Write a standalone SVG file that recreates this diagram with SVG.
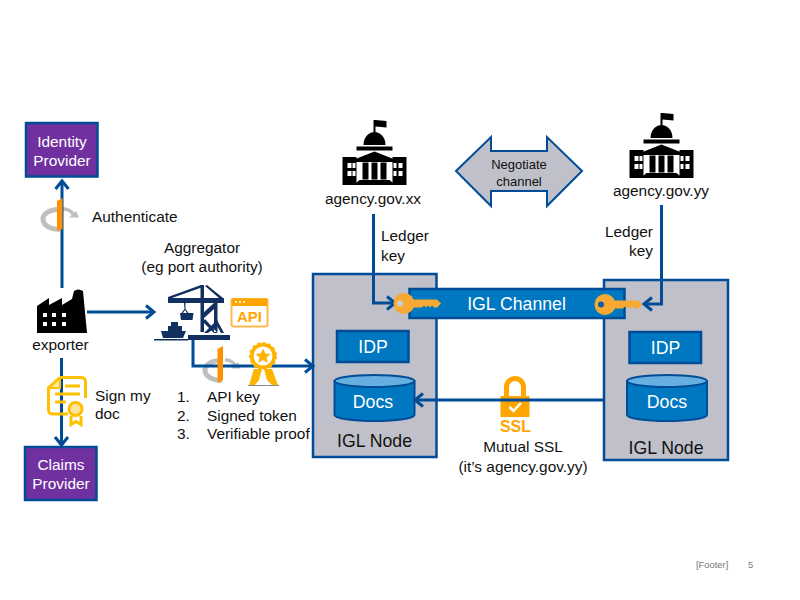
<svg xmlns="http://www.w3.org/2000/svg" width="800" height="600" viewBox="0 0 800 600">
<defs>
<marker id="arr" markerUnits="userSpaceOnUse" markerWidth="16" markerHeight="16" refX="13" refY="8" orient="auto"><path d="M5 1.500L13 8L5 14.500" fill="none" stroke="#004C97" stroke-width="3"/></marker>
<g id="agency"><path d="M-1 -40V-28h2V-40zM1 -40L12 -39V-32.500L1 -33.500z" fill="#000"/><path d="M-11 -15a11 13 0 0 1 22 0z" fill="#000"/><path d="M-18 -13.500H18V-9.500H-18z" fill="#000"/><path d="M-32 -3H-18V25H-32zM32 -3H18V25H32z" fill="#000"/><path d="M-19 -1L0 -8.500L19 -1L19 2H-19z" fill="#000"/><path d="M-12 2.500h6v17h-6zM-3 2.500h6v17h-6zM6 2.500h6v17h-6z" fill="#000"/><path d="M-27 3h4v5h-4zM-22 3h3v5h-3zM-27 11h4v5h-4zM-22 11h3v5h-3zM19 3h3v5h-3zM24 3h4v5h-4zM19 11h3v5h-3zM24 11h4v5h-4z" fill="#fff"/><path d="M-15 20H15L21 25H-21z" fill="#000"/></g>
<g id="key"><circle cx="0" cy="0" r="10.500" fill="#F7A933"/><path d="M8 -4H33L37 0L33 4H30L28 2L26 4L24 2L22 4L20 2L18 4H8z" fill="#F7A933"/></g>
<g id="rot"><path d="M0 -9.500C-12 -10 -17 -4 -17 0C-17 7 -8 11 0 10" fill="none" stroke="#BFBFBF" stroke-width="5"/><path d="M3 -10C8 -10 11 -8 13 -5" fill="none" stroke="#BFBFBF" stroke-width="3.500"/><path d="M9 -1.500H19L16 -8z" fill="#BFBFBF"/></g>
<g id="cyl"><path d="M-40 -20V14A40 6 0 0 0 40 14V-20z" fill="#0078C1" stroke="#004C97" stroke-width="2"/><ellipse cx="0" cy="-20" rx="40" ry="6" fill="#65B0E0" stroke="#004C97" stroke-width="2"/></g>
</defs>
<style>
text{font-family:"Liberation Sans",Arial,sans-serif;fill:#111;font-size:15.400px}
.m{text-anchor:middle}
.w{fill:#fff}
.l{font-size:17.700px}
.p{fill:#7030A0;stroke:#004C97;stroke-width:2.500}
.n{fill:#BFC0C9;stroke:#004C97;stroke-width:2.500}
.b{fill:#0078C1;stroke:#004C97;stroke-width:2.500}
.c{fill:none;stroke:#004C97;stroke-width:3}
.y{fill:none;stroke:#FFC000;stroke-width:3}
.o{fill:#FFA500}
.bar{fill:#FF9000}
</style>

<g id="identity-provider"><rect class="p" x="26" y="123" width="71.500" height="53.500"/><text class="m w" x="62" y="147">Identity</text><text class="m w" x="62" y="166">Provider</text></g>
<g id="claims-provider"><rect class="p" x="25" y="447" width="71.500" height="53"/><text class="m w" x="61" y="470">Claims</text><text class="m w" x="61" y="489">Provider</text></g>

<g id="igl-node-left"><rect class="n" x="313" y="274" width="123.500" height="183"/><rect class="b" x="337" y="331" width="71.500" height="31"/><text class="m w l" x="373" y="353">IDP</text><use href="#cyl" x="374.500" y="401"/><text class="m w l" x="373" y="408">Docs</text><text class="m l" x="374.500" y="447">IGL Node</text></g>
<g id="igl-node-right"><rect class="n" x="604" y="280" width="124" height="180"/><rect class="b" x="629.500" y="332" width="71.500" height="31"/><text class="m w l" x="665.500" y="354">IDP</text><use href="#cyl" x="667" y="401"/><text class="m w l" x="667" y="408">Docs</text><text class="m l" x="666" y="454">IGL Node</text></g>

<g id="ssl"><path d="M506.500 397V387A8.500 8.500 0 0 1 523.500 387V397" fill="none" stroke="#FFA500" stroke-width="5"/><rect class="o" x="500.500" y="396" width="29" height="21"/><path d="M509.500 407L513.500 411L521 403" fill="none" stroke="#fff" stroke-width="2.500"/><text class="m" x="515.500" y="432" style="font-size:16px;font-weight:bold;fill:#FFA500">SSL</text><text class="m" x="523" y="452">Mutual SSL</text><text class="m" x="523" y="472">(it’s agency.gov.yy)</text></g>
<use id="rot-auth" href="#rot" x="60" y="219"/>
<use id="rot-token" href="#rot" x="222" y="370"/>

<g id="connectors">
<path class="c" d="M62 288V181" marker-end="url(#arr)"/>
<path class="c" d="M61.500 358V445" marker-end="url(#arr)"/>
<path class="c" d="M87 312H154" marker-end="url(#arr)"/>
<path class="c" d="M193 340V366H313" marker-end="url(#arr)"/>
<path class="c" d="M604 400H415" marker-end="url(#arr)"/>
<path class="c" d="M373.500 214V303H395" marker-end="url(#arr)"/>
<path class="c" d="M661.500 205V304H644" marker-end="url(#arr)"/>
</g>

<g id="igl-channel"><rect class="b" x="409.500" y="289" width="215" height="29"/><text class="m w l" x="516.500" y="310">IGL Channel</text><use href="#key" x="404" y="303.500"/><circle cx="400" cy="303.500" r="3" fill="#C9CDD6"/><use href="#key" x="605" y="304.500"/><circle cx="601" cy="304.500" r="3" fill="#0B5FA8"/></g>

<g id="negotiate"><path d="M456 171L491 137V151H547V137L582 171L547 206V191H491V206z" fill="#BFC0C9" stroke="#004C97" stroke-width="2"/><text class="m" x="519" y="169" style="font-size:13px">Negotiate</text><text class="m" x="519" y="186" style="font-size:13px">channel</text></g>

<g id="agency-xx"><use href="#agency" x="374.500" y="160"/><text class="m" x="373" y="204">agency.gov.xx</text></g>
<g id="agency-yy"><use href="#agency" x="661.500" y="153"/><text class="m" x="661" y="196">agency.gov.yy</text></g>
<g id="ledger-left"><text x="381" y="241">Ledger</text><text x="381" y="261">key</text></g>
<g id="ledger-right"><text x="605" y="237">Ledger</text><text x="629" y="256">key</text></g>

<g id="exporter"><path d="M37 333V306L49 298V305L62 298V305L72 299L74 291Q78 288 83 291L87 333z" fill="#000"/><path d="M43 313h4v4h-4zM52 313h4v4h-4zM62 313h4v4h-4zM43 322h4v4h-4zM52 322h4v4h-4zM62 322h4v4h-4z" fill="#fff"/><text class="m" x="60.500" y="350">exporter</text></g>

<g id="authenticate"><path class="bar" d="M57 201L62.500 198V229L57 231z"/><text x="92" y="222">Authenticate</text></g>

<g id="sign"><path class="y" d="M60 377.500H81Q85.500 377.500 85.500 382V398M60 377.500L48.500 388V410Q48.500 414 53 414H68"/><path d="M60 378L49 388H60z" fill="#FFE9A8" stroke="#FFC000" stroke-width="2"/><path class="y" d="M65 386H80M55 394H80M55 402H66" stroke-width="2"/><circle cx="75.500" cy="409" r="6.500" fill="#FFE3A0" stroke="#FFC000" stroke-width="3"/><path d="M71 416V424.500L76 421.500L81 424.500V416" class="y" stroke-width="2.500"/><text x="95" y="401">Sign my</text><text x="95" y="419">doc</text></g>

<g id="aggregator"><text class="m" x="202" y="253">Aggregator</text><text class="m" x="202" y="272">(eg port authority)</text>
<g fill="#12305F" stroke="none"><path d="M168 297L201 285L203 287L172 298H224V303H168z"/><path d="M200.500 285h3.500V332h-3.500z"/><path d="M205 286L207 285L223 298H219zM203 313L214 303h3.500V332h-3.500V309L203 319zM203 322L214 333H217.500L205 319z"/><path d="M204 333L217 320L224 333H221L217 326L208 333z"/><path d="M184 303h1.500v6l3 4h-1.500l-2 -3l-2 3h-1.500l3 -4z"/><path d="M180 313h13.500l-1 7h-11.500z"/><path d="M161 331H186L183 338H163zM168 326h14v5h-14zM171 322h7v4h-7z"/><path d="M188 335H230V340H188zM154 339H188V340.500H154z"/></g></g>

<g id="api"><rect x="231.500" y="299" width="36" height="27.500" rx="2" fill="#fff" stroke="#FFB84D" stroke-width="2"/><path d="M231.500 298.500h36v7.500h-36z" fill="#FFA500"/><circle cx="236" cy="302" r="1" fill="#fff"/><circle cx="240" cy="302" r="1" fill="#fff"/><circle cx="244" cy="302" r="1" fill="#fff"/><text class="m" x="249.500" y="322" style="font-size:15px;font-weight:bold;fill:#FFA500">API</text></g>

<path id="token-bar" class="bar" d="M217.500 349L223 346V380L217.500 383z"/>
<g id="proof"><circle cx="263" cy="356" r="13" fill="#FFB400" stroke="#FFB400" stroke-width="2" stroke-dasharray="3 2.500"/><circle cx="263" cy="356" r="9.500" fill="#fff"/><path d="M263 348.500L265.300 353.500L270.500 354L266.500 357.500L267.800 363L263 360L258.200 363L259.500 357.500L255.500 354L260.700 353.500z" fill="#FFB400"/><path d="M254 369L249 385H255L259 380L262 369zM272 369L278 385H272L267 380L264 369z" fill="#FFB400"/><path d="M248 385.500H279" stroke="#888" stroke-width="1"/></g>

<g id="steps"><text x="177" y="402">1.</text><text x="207" y="402">API key</text><text x="177" y="421">2.</text><text x="207" y="421">Signed token</text><text x="177" y="439">3.</text><text x="207" y="439">Verifiable proof</text></g>

<g id="footer"><text x="696" y="568" style="font-size:9.400px;fill:#777">[Footer]</text><text x="748" y="568" style="font-size:9.400px;fill:#777">5</text></g>
</svg>
